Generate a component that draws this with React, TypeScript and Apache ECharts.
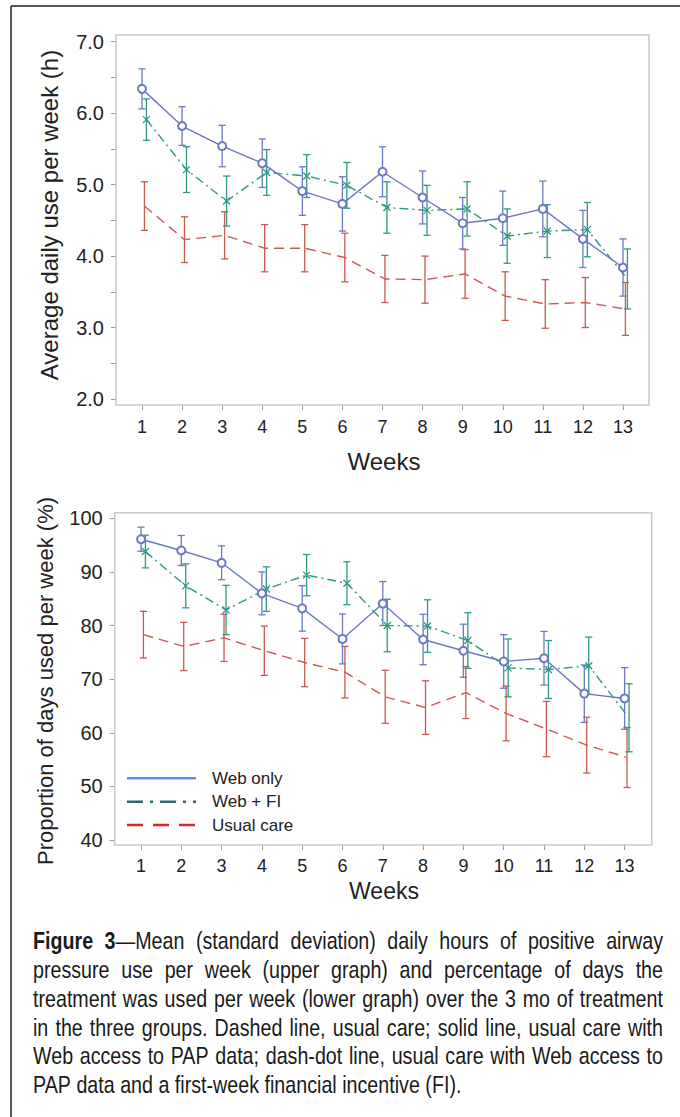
import React, { useEffect, useRef } from "react";
import * as echarts from "echarts";

// ---------- DATA ----------
const weeks = [1, 2, 3, 4, 5, 6, 7, 8, 9, 10, 11, 12, 13];
const seriesNames = ["Web only", "Web + FI", "Usual care"];

// Upper graph: average daily use per week (h), mean and SD
const hoursWebOnly = [6.34, 5.82, 5.54, 5.3, 4.91, 4.73, 5.18, 4.82, 4.46, 4.53, 4.66, 4.24, 3.84];
const hoursWebOnlySd = [0.28, 0.27, 0.29, 0.34, 0.34, 0.38, 0.35, 0.37, 0.36, 0.38, 0.39, 0.4, 0.4];
const hoursWebFI = [5.91, 5.21, 4.77, 5.17, 5.12, 4.99, 4.68, 4.64, 4.66, 4.28, 4.35, 4.37, 3.68];
const hoursWebFISd = [0.29, 0.32, 0.35, 0.32, 0.3, 0.32, 0.36, 0.35, 0.38, 0.38, 0.37, 0.38, 0.42];
const hoursUsual = [4.7, 4.23, 4.29, 4.11, 4.11, 3.98, 3.68, 3.67, 3.75, 3.44, 3.33, 3.35, 3.26];
const hoursUsualSd = [0.34, 0.32, 0.33, 0.33, 0.33, 0.34, 0.33, 0.33, 0.34, 0.34, 0.34, 0.35, 0.37];

// Lower graph: proportion of days used per week (%), mean and SD
const daysWebOnly = [96.1, 94.0, 91.7, 86.0, 83.2, 77.5, 84.1, 77.4, 75.3, 73.3, 73.9, 67.3, 66.4];
const daysWebOnlySd = [2.25, 2.8, 3.15, 4.0, 4.25, 4.65, 4.1, 4.7, 4.95, 5.0, 5.0, 5.35, 5.75];
const daysWebFI = [93.8, 87.4, 82.9, 86.8, 89.4, 87.9, 80.0, 79.9, 77.2, 72.1, 71.8, 72.5, 62.8];
const daysWebFISd = [3.05, 4.1, 4.6, 4.15, 3.85, 4.0, 4.9, 4.9, 5.2, 5.4, 5.4, 5.35, 6.35];
const daysUsual = [78.3, 76.1, 77.7, 75.3, 73.1, 71.3, 66.7, 64.7, 67.5, 63.6, 60.7, 57.7, 55.4];
const daysUsualSd = [4.35, 4.5, 4.4, 4.6, 4.5, 4.8, 4.95, 5.0, 4.85, 5.1, 5.15, 5.2, 5.6];

const xAxisTitle = "Weeks";
const yTitleTop = "Average daily use per week (h)";
const yTitleBottom = "Proportion of days used per week (%)";

const captionBold = "Figure 3";
const captionLines = [
  "Figure 3\u2014Mean (standard deviation) daily hours of positive airway",
  "pressure use per week (upper graph) and percentage of days the",
  "treatment was used per week (lower graph) over the 3 mo of treatment",
  "in the three groups. Dashed line, usual care; solid line, usual care with",
  "Web access to PAP data; dash-dot line, usual care with Web access to",
  "PAP data and a first-week financial incentive (FI).",
];

// ---------- STYLE ----------
const FONT = "Liberation Sans";
const C_BLUE = "#6c79c2";
const C_GREEN = "#2e9a84";
const C_RED = "#c95a50";
const L_BLUE = "#5b8fd6";
const L_TEAL = "#2b6a72";
const L_RED = "#d42a2a";
const OFFS = [0, 0.11, 0.06]; // horizontal dodge (weeks) for Web only, Web+FI, Usual care

function errorBars(gi: number, means: number[], sds: number[], off: number, color: string) {
  return {
    type: "custom",
    xAxisIndex: gi,
    yAxisIndex: gi,
    silent: true,
    z: 2,
    data: weeks.map((w, i) => [w + off, means[i] - sds[i], means[i] + sds[i]]),
    encode: { x: 0, y: [1, 2] },
    renderItem: (params: any, api: any) => {
      const x = api.value(0);
      const lo = api.coord([x, api.value(1)]);
      const hi = api.coord([x, api.value(2)]);
      const hw = 3.6;
      const st = { stroke: color, lineWidth: 1.3 };
      return {
        type: "group",
        children: [
          { type: "line", shape: { x1: lo[0], y1: lo[1], x2: hi[0], y2: hi[1] }, style: st },
          { type: "line", shape: { x1: lo[0] - hw, y1: lo[1], x2: lo[0] + hw, y2: lo[1] }, style: st },
          { type: "line", shape: { x1: hi[0] - hw, y1: hi[1], x2: hi[0] + hw, y2: hi[1] }, style: st },
        ],
      };
    },
  };
}

function lineSeries(gi: number, name: string, means: number[], off: number, kind: number) {
  const base: any = {
    type: "line",
    name,
    xAxisIndex: gi,
    yAxisIndex: gi,
    z: 3,
    data: weeks.map((w, i) => [w + off, means[i]]),
  };
  if (kind === 0) {
    base.symbol = "emptyCircle";
    base.symbolSize = 8;
    base.itemStyle = { color: C_BLUE, borderWidth: 1.2 };
    base.lineStyle = { color: C_BLUE, width: 1.4, type: "solid" };
  } else if (kind === 1) {
    base.symbol = "path://M0 0L10 10M10 0L0 10";
    base.symbolSize = 7;
    base.itemStyle = { color: "none", borderColor: C_GREEN, borderWidth: 1.3 };
    base.lineStyle = { color: C_GREEN, width: 1.4, type: [9, 4, 2, 4] };
  } else {
    base.symbol = "none";
    base.lineStyle = { color: C_RED, width: 1.4, type: [10, 6] };
  }
  return base;
}

function buildCaption(): any[] {
  const canvas = document.createElement("canvas");
  const ctx = canvas.getContext("2d")!;
  const size = 24;
  const sx = 0.82;
  const left = 33;
  const right = 663;
  const top0 = 941;
  const lh = 28.8;
  const fontOf = (b: boolean) => `${b ? "bold " : ""}${size}px "${FONT}"`;
  const meas = (t: string, b: boolean) => {
    ctx.font = fontOf(b);
    return ctx.measureText(t).width * sx;
  };
  const els: any[] = [];
  captionLines.forEach((line, li) => {
    const words = line.split(" ");
    let pos = 0;
    const segsPerWord = words.map((w) => {
      const start = pos;
      pos += w.length + 1;
      const bl = li === 0 ? captionBold.length : 0;
      if (start + w.length <= bl) return [{ t: w, b: true }];
      if (start < bl) return [{ t: w.slice(0, bl - start), b: true }, { t: w.slice(bl - start), b: false }];
      return [{ t: w, b: false }];
    });
    const widths = segsPerWord.map((segs) => segs.reduce((s, g) => s + meas(g.t, g.b), 0));
    const total = widths.reduce((a, b) => a + b, 0);
    const last = li === captionLines.length - 1;
    const gap = last || words.length < 2 ? meas(" ", false) : (right - left - total) / (words.length - 1);
    let x = left;
    const y = top0 + li * lh;
    segsPerWord.forEach((segs, wi) => {
      let xx = x;
      segs.forEach((g) => {
        els.push({
          type: "text",
          x: xx,
          y,
          scaleX: sx,
          style: {
            text: g.t,
            font: fontOf(g.b),
            fill: "#1a1a1a",
            verticalAlign: "middle",
            align: "left",
          },
        });
        xx += meas(g.t, g.b);
      });
      x += widths[wi] + gap;
    });
  });
  return els;
}

export default function App() {
  const ref = useRef<HTMLDivElement>(null);
  useEffect(() => {
    const chart = echarts.init(ref.current!, null, { renderer: "svg" });
    const tickStyle = { show: true, length: 5, lineStyle: { color: "#9a9a9a", width: 1 } };
    const lbl = (fs: number, margin: number, fmt?: any) => ({
      fontSize: fs,
      fontFamily: FONT,
      color: "#222",
      margin,
      formatter: fmt,
    });
    const option: any = {
      animation: false,
      backgroundColor: "#ffffff",
      grid: [
        { left: 142, top: 41.7, width: 481, height: 357.3 },
        { left: 141, top: 518.3, width: 483.6, height: 321.7 },
      ],
      xAxis: [
        {
          gridIndex: 0, type: "value", min: 1, max: 13, interval: 1, offset: 6,
          axisLine: { show: false }, axisTick: tickStyle, splitLine: { show: false },
          axisLabel: lbl(18, 13),
        },
        {
          gridIndex: 1, type: "value", min: 1, max: 13, interval: 1, offset: 5,
          axisLine: { show: false }, axisTick: tickStyle, splitLine: { show: false },
          axisLabel: lbl(18, 12),
        },
      ],
      yAxis: [
        {
          gridIndex: 0, type: "value", min: 2, max: 7, interval: 0.5, offset: 26,
          axisLine: { show: false }, axisTick: tickStyle, splitLine: { show: false },
          axisLabel: lbl(20, 12, (v: number) => (Math.abs(v - Math.round(v)) < 1e-6 ? v.toFixed(1) : "")),
        },
        {
          gridIndex: 1, type: "value", min: 40, max: 100, interval: 10, offset: 26.3,
          axisLine: { show: false }, axisTick: tickStyle, splitLine: { show: false },
          axisLabel: lbl(20, 12),
        },
      ],
      series: [
        errorBars(0, hoursUsual, hoursUsualSd, OFFS[2], C_RED),
        errorBars(0, hoursWebFI, hoursWebFISd, OFFS[1], C_GREEN),
        errorBars(0, hoursWebOnly, hoursWebOnlySd, OFFS[0], C_BLUE),
        lineSeries(0, seriesNames[2], hoursUsual, OFFS[2], 2),
        lineSeries(0, seriesNames[1], hoursWebFI, OFFS[1], 1),
        lineSeries(0, seriesNames[0], hoursWebOnly, OFFS[0], 0),
        errorBars(1, daysUsual, daysUsualSd, OFFS[2], C_RED),
        errorBars(1, daysWebFI, daysWebFISd, OFFS[1], C_GREEN),
        errorBars(1, daysWebOnly, daysWebOnlySd, OFFS[0], C_BLUE),
        lineSeries(1, seriesNames[2], daysUsual, OFFS[2], 2),
        lineSeries(1, seriesNames[1], daysWebFI, OFFS[1], 1),
        lineSeries(1, seriesNames[0], daysWebOnly, OFFS[0], 0),
      ],
      graphic: [
        // outer figure border (left & top)
        { type: "line", shape: { x1: 11, y1: 6, x2: 11, y2: 1117 }, style: { stroke: "#222", lineWidth: 1.5 } },
        { type: "line", shape: { x1: 11, y1: 6, x2: 680, y2: 6 }, style: { stroke: "#222", lineWidth: 1.5 } },
        // plot frames
        { type: "rect", shape: { x: 116, y: 35, width: 533, height: 370 }, style: { fill: "none", stroke: "#c8c8c8", lineWidth: 1.5 }, z: 1 },
        { type: "rect", shape: { x: 114.7, y: 512.7, width: 537, height: 332.3 }, style: { fill: "none", stroke: "#c8c8c8", lineWidth: 1.5 }, z: 1 },
        // axis titles
        { type: "text", x: 384, y: 461, style: { text: xAxisTitle, font: `24px "${FONT}"`, fill: "#222", align: "center", verticalAlign: "middle" } },
        { type: "text", x: 384, y: 891, style: { text: xAxisTitle, font: `23px "${FONT}"`, fill: "#222", align: "center", verticalAlign: "middle" } },
        { type: "text", x: 49, y: 215, rotation: Math.PI / 2, style: { text: yTitleTop, font: `24px "${FONT}"`, fill: "#222", align: "center", verticalAlign: "middle" } },
        { type: "text", x: 45, y: 681, rotation: Math.PI / 2, style: { text: yTitleBottom, font: `22px "${FONT}"`, fill: "#222", align: "center", verticalAlign: "middle" } },
        // legend
        { type: "line", shape: { x1: 127, y1: 778.3, x2: 196, y2: 778.3 }, style: { stroke: L_BLUE, lineWidth: 2.4 } },
        { type: "line", shape: { x1: 127, y1: 801.7, x2: 196, y2: 801.7 }, style: { stroke: L_TEAL, lineWidth: 2.4, lineDash: [16, 7, 3, 7] } },
        { type: "line", shape: { x1: 127, y1: 825, x2: 196, y2: 825 }, style: { stroke: L_RED, lineWidth: 2.4, lineDash: [16, 10] } },
        { type: "text", x: 212, y: 778.3, style: { text: seriesNames[0], font: `17px "${FONT}"`, fill: "#222", verticalAlign: "middle" } },
        { type: "text", x: 212, y: 801.7, style: { text: seriesNames[1], font: `17px "${FONT}"`, fill: "#222", verticalAlign: "middle" } },
        { type: "text", x: 212, y: 825, style: { text: seriesNames[2], font: `17px "${FONT}"`, fill: "#222", verticalAlign: "middle" } },
        ...buildCaption(),
      ],
    };
    chart.setOption(option);
    return () => chart.dispose();
  }, []);
  return (
    <div
      ref={ref}
      style={{ position: "absolute", left: 0, top: 0, width: 680, height: 1117, background: "#fff" }}
    />
  );
}
